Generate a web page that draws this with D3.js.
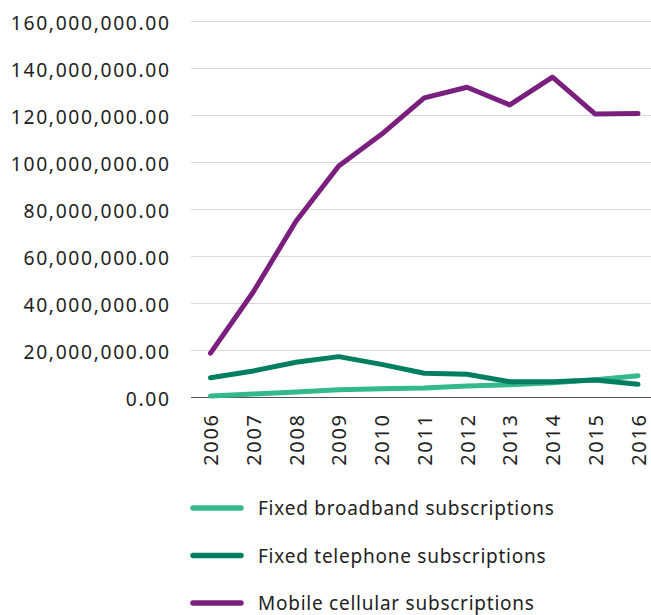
<!DOCTYPE html>
<html><head><meta charset="utf-8">
<script src="https://cdn.jsdelivr.net/npm/d3@7"></script>
<style>body{margin:0;background:#fff}svg{display:block}text{font-family:"Noto Sans",sans-serif;fill:#222}</style>
</head><body><svg id="c" width="651" height="615"></svg>
<script>
const years = ["2006","2007","2008","2009","2010","2011","2012","2013","2014","2015","2016"];
const broadband = [600000,1500000,2300000,3300000,3700000,4000000,4900000,5400000,6300000,7600000,9300000];
const telephone = [8400000,11300000,15000000,17400000,14100000,10300000,9900000,6700000,6700000,7400000,5600000];
const mobile = [18900000,44900000,75000000,98500000,112000000,127500000,132000000,124500000,136300000,120600000,120800000];
const yTicks = [0,20000000,40000000,60000000,80000000,100000000,120000000,140000000,160000000];
const seriesNames = ["Fixed broadband subscriptions","Fixed telephone subscriptions","Mobile cellular subscriptions"];
const colors = ["#34b98a","#007f60","#7a1f7e"];

const svg = d3.select("#c");
const x = d3.scalePoint().domain(years).range([210.5, 638]);
const y = d3.scaleLinear().domain([0,160000000]).range([397.5, 21.5]);
const fmt = d3.format(",.2f");

const g = svg.append("g");
g.selectAll("line.grid").data(yTicks.slice(1)).join("line")
  .attr("x1",191).attr("x2",651).attr("y1",d=>y(d)).attr("y2",d=>y(d))
  .attr("stroke","#d9d9d9").attr("stroke-width",1.2);
g.append("line").attr("x1",191).attr("x2",651).attr("y1",y(0)).attr("y2",y(0))
  .attr("stroke","#555").attr("stroke-width",1.2);

const yAxis = svg.append("g").attr("transform","translate(191,0)")
  .call(d3.axisLeft(y).tickValues(yTicks).tickFormat(fmt).tickSize(0).tickPadding(20.3));
yAxis.select(".domain").remove();
yAxis.selectAll("text").attr("font-size",19.3).attr("letter-spacing",1.65).attr("fill","#222").attr("dy","0.4em");

const xAxis = svg.append("g").attr("transform",`translate(0,${y(0)})`)
  .call(d3.axisBottom(x).tickSize(0));
xAxis.select(".domain").remove();
xAxis.selectAll("text").attr("font-size",20).attr("letter-spacing",1.6).attr("fill","#222")
  .attr("transform","rotate(-90)").attr("text-anchor","end").attr("x",-16).attr("y",0).attr("dy",7);

const line = d3.line().x((d,i)=>x(years[i])).y(d=>y(d));
[broadband, telephone, mobile].forEach((s,i)=>{
  svg.append("path").datum(s).attr("d",line).attr("fill","none")
    .attr("stroke",colors[i]).attr("stroke-width",5).attr("stroke-linecap","round").attr("stroke-linejoin","round");
});

const leg = svg.append("g");
const legY = d3.scalePoint().domain(seriesNames).range([508,603]);
seriesNames.forEach((n,i)=>{
  leg.append("line").attr("x1",193).attr("x2",241).attr("y1",legY(n)).attr("y2",legY(n))
    .attr("stroke",colors[i]).attr("stroke-width",5.5).attr("stroke-linecap","round");
  leg.append("text").attr("x",258).attr("y",legY(n)).attr("dy","0.38em").attr("font-size",19)
    .attr("letter-spacing",0.75).text(n);
});
</script></body></html>
